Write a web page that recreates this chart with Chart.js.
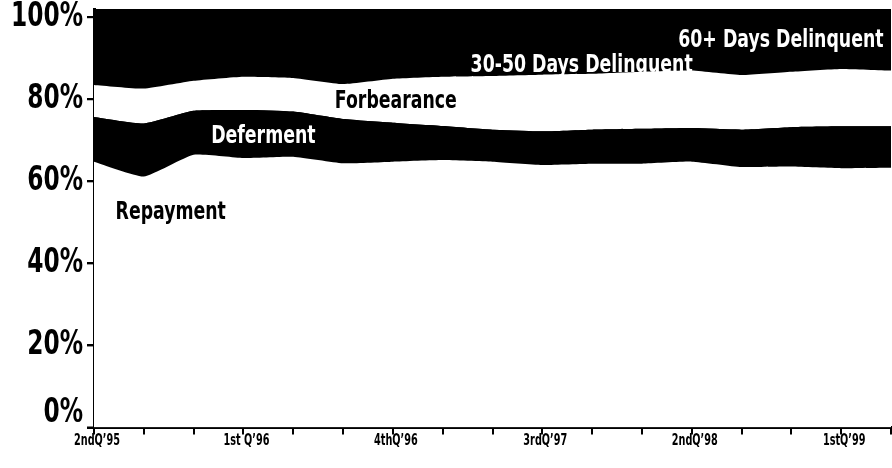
<!DOCTYPE html>
<html lang="en">
  <head>
    <meta charset="UTF-8" />
    <title>Loan Status Mix</title>
    <script src="https://cdn.jsdelivr.net/npm/chart.js"></script>
    <style>
      body { margin: 0; background: #fff; }
      #wrap { width: 892px; height: 468px; }
    </style>
  </head>
  <body>
    <div id="wrap"><canvas id="myChart"></canvas></div>

    <script>
      const quarters = [
        "2ndQ’95", "3rdQ’95", "4thQ’95", "1st Q’96", "2ndQ’96", "3rdQ’96",
        "4thQ’96", "1stQ’97", "2ndQ’97", "3rdQ’97", "4thQ’97", "1stQ’98",
        "2ndQ’98", "3rdQ’98", "4thQ’98", "1stQ’99", "2ndQ’99",
      ];
      const yTicks = [0, 20, 40, 60, 80, 100];

      // share of portfolio, percent
      const repayment = [64.8, 61.2, 66.5, 65.7, 66.0, 64.4, 64.8, 65.2, 64.8, 64.0, 64.3, 64.3, 64.8, 63.5, 63.6, 63.2, 63.3];
      const deferment = [10.9, 12.9, 10.7, 11.7, 11.0, 10.8, 9.5, 8.3, 7.8, 8.2, 8.3, 8.5, 8.2, 9.1, 9.6, 10.2, 10.1];
      const forbearance = [7.8, 8.5, 7.3, 8.1, 8.2, 8.5, 10.7, 12.0, 13.1, 13.8, 13.6, 13.9, 14.0, 13.3, 13.5, 14.0, 13.6];
      const delinq30 = [5.5, 5.5, 5.0, 5.0, 5.0, 5.5, 5.0, 5.0, 5.0, 5.0, 5.0, 4.5, 4.5, 5.0, 4.5, 4.5, 4.5];
      const delinq60 = [11.0, 11.9, 10.5, 9.5, 9.8, 10.8, 10.0, 9.5, 9.3, 9.0, 8.8, 8.8, 8.5, 9.1, 8.8, 8.1, 8.5];

      const narrow = "'Liberation Sans Narrow', 'DejaVu Sans Condensed', sans-serif";

      // in-chart band names, anchored at (category index, percent)
      const bandLabels = [
        { text: "Repayment", at: [1.54, 52.3], color: "#000" },
        { text: "Deferment", at: [3.4, 70.9], color: "#fff" },
        { text: "Forbearance", at: [6.06, 79.4], color: "#000" },
        { text: "30-50 Days Delinquent", at: [9.79, 88.2], color: "#fff" },
        { text: "60+ Days Delinquent", at: [13.79, 94.2], color: "#fff" },
      ];

      function band(label, data, color, fill) {
        return {
          label: label,
          data: data,
          backgroundColor: color,
          borderWidth: 0,
          pointRadius: 0,
          fill: fill,
          tension: 0.15,
        };
      }

      // squeeze text horizontally so it looks like a condensed face
      function squeezed(c, text, x, y, align, sx) {
        c.save();
        c.translate(x, y);
        c.scale(sx, 1);
        c.textAlign = align;
        c.fillText(text, 0, 0);
        c.restore();
      }

      const blackArea = {
        id: "blackArea",
        beforeDatasetsDraw(chart) {
          const a = chart.chartArea;
          const c = chart.ctx;
          c.save();
          c.fillStyle = "#000";
          c.fillRect(a.left, a.top, a.right - a.left, a.bottom - a.top);
          c.restore();
        },
      };

      const textLayer = {
        id: "textLayer",
        afterDraw(chart) {
          const c = chart.ctx;
          const x = chart.scales.x;
          const y = chart.scales.y;
          const a = chart.chartArea;
          c.save();
          c.textBaseline = "middle";

          // band names
          c.font = "bold 24px " + narrow;
          const sxBand = 122 / c.measureText("Forbearance").width;
          bandLabels.forEach((b) => {
            c.fillStyle = b.color;
            squeezed(c, b.text, x.getPixelForValue(b.at[0]), y.getPixelForValue(b.at[1]), "center", sxBand);
          });

          // y labels and their small tick marks
          c.fillStyle = "#000";
          c.strokeStyle = "#000";
          c.lineWidth = 2;
          c.font = "bold 34px " + narrow;
          const sxY = 72 / c.measureText("100%").width;
          yTicks.forEach((v) => {
            const ty = y.getPixelForValue(v);
            c.beginPath();
            c.moveTo(a.left - 7, ty);
            c.lineTo(a.left, ty);
            c.stroke();
            squeezed(c, v + "%", a.left - 11, Math.min(ty, a.bottom - 14), "right", sxY);
          });

          // x labels, every third quarter
          c.font = "bold 15px " + narrow;
          const sxX = 46 / c.measureText(quarters[0]).width;
          quarters.forEach((q, i) => {
            if (i % 3 === 0) {
              squeezed(c, q, x.getPixelForValue(i) + 3, a.bottom + 14, "center", sxX);
            }
          });
          c.restore();
        },
      };

      new Chart(document.getElementById("myChart"), {
        type: "line",
        data: {
          labels: quarters,
          datasets: [
            band("Repayment", repayment, "#fff", "origin"),
            band("Deferment", deferment, "#000", "-1"),
            band("Forbearance", forbearance, "#fff", "-1"),
            band("30-50 Days Delinquent", delinq30, "#000", "-1"),
            band("60+ Days Delinquent", delinq60, "#000", "-1"),
          ],
        },
        options: {
          responsive: true,
          maintainAspectRatio: false,
          animation: false,
          layout: { padding: { top: 9, right: 1, left: 0, bottom: 0 } },
          plugins: {
            legend: { display: false },
            tooltip: { enabled: false },
          },
          scales: {
            x: {
              offset: false,
              grid: {
                drawOnChartArea: false,
                color: "#000",
                lineWidth: 2,
                tickLength: 7,
              },
              border: { color: "#000", width: 3 },
              ticks: { display: false, autoSkip: false },
              afterFit: (s) => { s.height = 40.5; },
            },
            y: {
              stacked: true,
              min: 0,
              max: 102,
              afterBuildTicks: (s) => { s.ticks = yTicks.map((v) => ({ value: v })); },
              grid: {
                drawOnChartArea: false,
                color: "#000",
                lineWidth: 2,
                tickLength: 7,
              },
              border: { color: "#000", width: 3 },
              ticks: { display: false },
              afterFit: (s) => { s.width = 94; },
            },
          },
        },
        plugins: [blackArea, textLayer],
      });
    </script>
  </body>
</html>
